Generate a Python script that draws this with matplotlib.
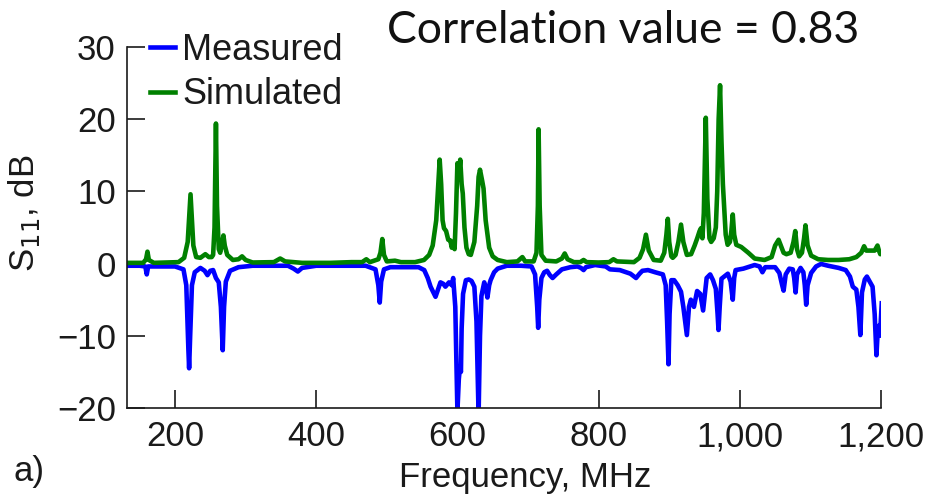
import matplotlib.pyplot as plt
from matplotlib.ticker import FuncFormatter

# measured S11 trace (MHz, dB)
meas_f = [132, 150, 158, 160, 162, 200, 212, 216, 219, 220, 221.5, 224, 228, 236, 242,
          246, 250, 254, 258, 262, 265, 267.6, 269.5, 272, 278, 290, 310, 360, 368, 374,
          380, 400, 470, 484, 488, 490, 492, 496, 505, 545, 553, 558, 562, 569, 576,
          580, 583, 588, 592, 594, 597, 600, 602, 603.7, 605, 606, 608, 612, 616, 620,
          624, 627, 630, 632, 634, 638, 640.5, 642.5, 645, 647, 652, 657, 670, 690, 705,
          710, 713, 714.4, 716, 719, 723, 727, 731, 734.8, 740, 748, 760, 770, 775,
          778.7, 782, 795, 810, 816, 830, 845, 853, 858, 862, 870, 880, 891, 895, 897,
          899, 900.5, 903, 907, 912, 916.7, 920, 925, 928, 930.6, 935, 939.5, 944, 948,
          953, 958, 962, 966, 968.5, 969.8, 971.5, 974, 983, 987, 990, 992, 994, 1005,
          1021, 1028, 1032, 1036, 1050, 1056, 1060, 1062, 1065, 1070, 1075, 1077, 1079,
          1081, 1086, 1090, 1092, 1094, 1096, 1101, 1108, 1115, 1125, 1140, 1150, 1156,
          1160, 1165, 1168, 1170.7, 1173, 1177, 1180, 1184, 1188, 1191, 1193.5, 1195.5,
          1197, 1198.5, 1201]
meas_db = [-0.3, -0.3, -0.4, -1.5, -0.4, -0.4, -0.8, -3, -12, -14.5, -10, -3, -1.2, -0.6, -1.0,
           -1.6, -1.0, -0.9, -2.0, -2.6, -6, -12, -6, -2.5, -1.0, -0.5, -0.3, -0.3, -0.7, -1.1,
           -0.6, -0.3, -0.3, -0.8, -3, -5.4, -2.5, -0.8, -0.5, -0.5, -0.9, -2, -3.2, -4.6, -2.6,
           -2.8, -3.2, -2.6, -3.0, -2.0, -6, -20.5, -16, -14.3, -15, -9, -4.2, -2.3, -2.2, -2.4,
           -3.2, -8, -21, -10, -4.5, -2.6, -3.5, -4.7, -3, -2.3, -1.2, -0.7, -0.3, -0.3, -0.4,
           -1.5, -6, -8.9, -5, -2, -1.2, -1.0, -1.6, -2.0, -1.5, -0.8, -0.5, -0.4, -0.6,
           -0.9, -0.5, -0.2, -0.4, -0.8, -0.9, -1.4, -2.0, -1.4, -1.0, -0.9, -1.2, -1.5, -3, -8,
           -13.95, -7, -2.3, -2.3, -3, -3.9, -6, -9.9, -6, -5.0, -6.0, -3.8, -4.2, -6.5,
           -2.0, -1.5, -2.3, -3.5, -7, -9.2, -6, -2.1, -1.4, -2.5, -5.0, -2, -0.9, -0.7,
           -0.2, -0.4, -1.2, -0.5, -0.5, -1.3, -3.0, -3.75, -1.5, -0.7, -0.8, -2, -4.0,
           -1.5, -0.6, -1.2, -3, -5.7, -3, -1.3, -0.4, -0.05, -0.3, -0.6, -0.9, -1.8,
           -3.2, -3.6, -6, -9.9, -4, -2.2, -1.8, -2.5, -3.2, -7, -12.7, -9,
           -8.6, -10, -5.5]

# simulated S11 trace (MHz, dB)
sim_f = [132, 155, 159, 161, 163, 170, 205, 213, 218, 220.5, 222, 223.5, 226, 230, 236, 243,
         248, 252, 254, 256, 258, 259.5, 262, 264, 266, 268.6, 270.5, 274, 282, 290, 295, 300,
         310, 340, 349, 356, 380, 420, 450, 465, 471, 476, 488, 491, 493.6, 496, 500, 511.6,
         520, 540, 552.7, 560, 565, 570, 573, 574.9, 577, 579, 581, 584, 587, 590, 592, 594,
         596, 598, 600, 602, 604, 606, 607.6, 610, 612.8, 616, 619, 624, 628, 630, 632, 635,
         637, 640, 645, 650, 657, 670, 685, 692, 696, 708, 712, 714, 715, 716.5, 719, 725,
         740, 748, 752, 756, 765, 774, 778.7, 783, 800, 815, 821, 826, 850, 858, 863, 867,
         871, 878, 888, 893, 896, 898, 900, 903, 905, 909, 913, 916.7, 920, 925, 931, 936,
         940, 943, 945, 947, 949, 951.8, 954, 957, 959.4, 963, 966, 968, 970, 972, 974, 976,
         978, 980, 982.7, 986, 988, 990, 992, 995, 1002, 1012, 1021, 1035, 1045, 1050,
         1054.9, 1058, 1062, 1066, 1072, 1076, 1078.5, 1081, 1084, 1088, 1091, 1093, 1096,
         1101, 1111, 1125, 1140, 1155, 1165, 1172, 1176, 1179, 1186, 1191, 1195, 1197,
         1199, 1201]
sim_db = [0.1, 0.1, 0.6, 1.65, 0.5, 0.1, 0.2, 0.8, 3, 7, 9.6, 7, 2.5, 0.9, 0.8, 1.3,
          0.9, 0.9, 1.2, 5, 19.4, 8, 2.0, 1.5, 2.5, 3.9, 2.5, 1.2, 0.5, 0.6, 1.0, 0.5,
          0.15, 0.2, 0.7, 0.3, 0.1, 0.1, 0.2, 0.2, 0.6, 0.2, 0.6, 1.5, 3.4, 1.2, 0.3, 0.4,
          0.2, 0.2, 0.5, 1.2, 2.5, 6, 11, 14.4, 11, 6, 4.9, 4.5, 3.3, 3.2, 2.2, 3.0,
          2.0, 7, 13.9, 12, 14.4, 11, 9.7, 5, 2.2, 1.3, 1.2, 3, 8, 12, 13, 11.5,
          10.4, 6, 2.2, 1.0, 0.5, 0.2, 0.3, 0.9, 0.3, 0.3, 1.5, 8, 18.6, 8, 1.2, 0.4,
          0.3, 0.7, 1.4, 0.6, 0.2, 0.2, 0.5, 0.2, 0.15, 0.2, 0.6, 0.3, 0.2, 0.8, 2.0, 4.0,
          1.8, 0.5, 0.4, 1.5, 4, 6.2, 3, 1.0, 0.8, 1.2, 3, 5.4, 3, 1.2, 1.3, 2.5,
          3.6, 4.5, 4.9, 3.5, 7, 20.2, 9, 3.5, 3.0, 3.5, 5, 10, 20, 24.7, 17, 11,
          7.4, 4, 2.6, 3.0, 4.5, 6.8, 4, 2.6, 2.3, 1.5, 0.7, 0.5, 0.9, 2.5,
          3.3, 2.5, 1.5, 1.3, 1.5, 3, 4.5, 2, 1.0, 1.5, 3.5, 5.3, 2.5,
          1.1, 0.6, 0.5, 0.5, 0.6, 0.9, 1.5, 2.4, 1.8, 1.8, 1.8, 2.5, 1.8,
          1.3, 1.4]

x_ticks = [200, 400, 600, 800, 1000, 1200]
y_ticks = [-20, -10, 0, 10, 20, 30]

plt.rcParams['font.family'] = ['Liberation Sans', 'DejaVu Sans']
ink = '#1a1a1a'

fig = plt.figure(figsize=(9.33, 4.95), dpi=100)
ax = fig.add_axes([0.1361, 0.1758, 0.8082, 0.7293])

ax.plot(meas_f, meas_db, color='#0000ff', lw=3.3, label='Measured')
ax.plot(sim_f, sim_db, color='#008000', lw=3.3, label='Simulated')

ax.set_xlim(132, 1200)
ax.set_ylim(-20, 30)
ax.set_xticks(x_ticks)
ax.set_yticks(y_ticks)
ax.xaxis.set_major_formatter(FuncFormatter(lambda v, p: f'{int(v):,}'))

for s in ['top', 'right']:
    ax.spines[s].set_visible(False)
for s in ['left', 'bottom']:
    ax.spines[s].set_linewidth(1.2)
    ax.spines[s].set_color(ink)
ax.tick_params(direction='in', length=13, width=1.2, color=ink,
               labelsize=25, labelcolor=ink)
ax.tick_params(axis='x', pad=9)
ax.tick_params(axis='y', pad=8)

ax.set_xlabel('Frequency, MHz', fontsize=25, color=ink)
ax.xaxis.set_label_coords(0.528, -0.148)
ax.set_ylabel('S$_{11}$, dB', fontsize=25, color=ink)
ax.yaxis.set_label_coords(-0.113, 0.54)

ax.legend(loc='upper left', bbox_to_anchor=(0.0305, 1.039), frameon=False,
          fontsize=26, handlelength=0.7, handletextpad=0.2, labelspacing=0.26,
          borderaxespad=0, borderpad=0, labelcolor=ink)

fig.text(0.668, 0.939, 'Correlation value = 0.83', fontsize=32,
         family=['Lato', 'DejaVu Sans'], ha='center', va='center', color='#111111')
fig.text(0.015, 1 - 472 / 495, 'a)', fontsize=25, ha='left', va='center', color=ink)

fig.savefig('out.png', dpi=100)
